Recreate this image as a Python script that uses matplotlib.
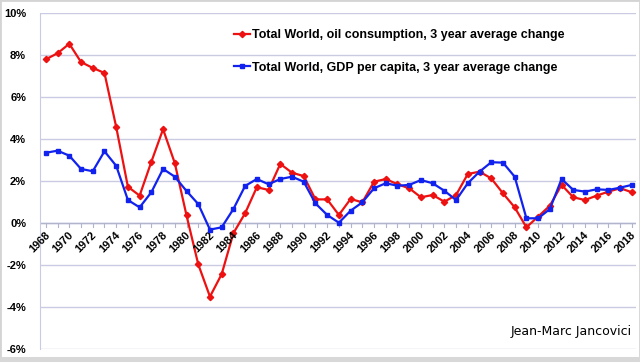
import matplotlib
matplotlib.use("Agg")
import matplotlib.pyplot as plt
from matplotlib.patches import Rectangle

years = list(range(1968, 2019))

oil = [7.78, 8.07, 8.52, 7.65, 7.37, 7.13, 4.56, 1.71, 1.29, 2.90,
       4.45, 2.84, 0.35, -1.98, -3.52, -2.45, -0.50, 0.45, 1.69, 1.56,
       2.80, 2.38, 2.22, 1.11, 1.11, 0.37, 1.13, 0.97, 1.95, 2.08,
       1.83, 1.64, 1.21, 1.32, 1.00, 1.32, 2.32, 2.43, 2.11, 1.40,
       0.73, -0.22, 0.29, 0.81, 1.80, 1.21, 1.08, 1.29, 1.48, 1.64,
       1.45]

gdp = [3.33, 3.43, 3.19, 2.56, 2.45, 3.40, 2.71, 1.08, 0.73, 1.45,
       2.56, 2.19, 1.51, 0.89, -0.33, -0.22, 0.65, 1.75, 2.08, 1.83,
       2.08, 2.19, 1.95, 0.92, 0.37, 0.00, 0.57, 0.97, 1.64, 1.88,
       1.76, 1.80, 2.03, 1.88, 1.52, 1.08, 1.88, 2.43, 2.88, 2.86,
       2.19, 0.21, 0.21, 0.65, 2.08, 1.56, 1.48, 1.59, 1.56, 1.67,
       1.80]

oil_label = "Total World, oil consumption, 3 year average change"
gdp_label = "Total World, GDP per capita, 3 year average change"
y_ticks = [-6, -4, -2, 0, 2, 4, 6, 8, 10]

plt.rcParams['font.family'] = ['Liberation Sans', 'DejaVu Sans']

fig = plt.figure(figsize=(6.4, 3.62), dpi=100)
W, H = 640, 362
ax = fig.add_axes([40 / W, (H - 348.7) / H, 596 / W, 336 / H])

grid_c = '#c8cbe2'
ax.plot(years, oil, color='#ee1111', lw=1.6, marker='D', ms=3.2,
        label=oil_label, zorder=3)
ax.plot(years, gdp, color='#1122ee', lw=1.6, marker='s', ms=3.2,
        label=gdp_label, zorder=4)

ax.set_ylim(-6, 10)
ax.set_xlim(1967.5, 2018.35)
ax.set_yticks(y_ticks)
ax.set_yticklabels([f"{v}%" for v in y_ticks], fontsize=8, fontweight='bold')
ax.grid(axis='y', color=grid_c, lw=1)
ax.set_axisbelow(True)

for s in ['top', 'right', 'bottom']:
    ax.spines[s].set_visible(False)
ax.spines['left'].set_color(grid_c)
ax.tick_params(axis='y', length=0, pad=10)

# x axis drawn on the 0% line
ax.axhline(0, color='#b0b4cc', lw=1, zorder=2)
ax.set_xticks(years[::2])
ax.tick_params(axis='x', which='both', length=0)
ax.set_xticklabels([])
for yr in years:
    ax.plot([yr, yr], [0, -0.2], color='#b0b4cc', lw=0.8, zorder=2)
for yr in years[::2]:
    ax.text(yr - 0.1, -0.35, str(yr), rotation=45, ha='right', va='top',
            rotation_mode='anchor', fontsize=8, fontweight='bold')

leg = ax.legend(loc='upper left', bbox_to_anchor=(234 / W, 1 - 29 / H),
                bbox_transform=fig.transFigure, frameon=False,
                borderpad=0, borderaxespad=0, handlelength=1.3,
                handletextpad=0.1, labelspacing=1.65,
                prop={'size': 9, 'weight': 'bold'})

fig.text(632 / W, 1 - 332 / H, "Jean-Marc Jancovici", ha='right',
         va='center', fontsize=9, family='DejaVu Sans')

# light grey frame
fig.patches.append(Rectangle((0, 0), 1, 1, transform=fig.transFigure,
                             fill=False, ec='#d4d4d4', lw=2))
fig.patches.append(Rectangle((0, 0), 1, 5 / H, transform=fig.transFigure,
                             fc='#d8d8d8', ec='none'))

fig.savefig("out.png", dpi=100)
